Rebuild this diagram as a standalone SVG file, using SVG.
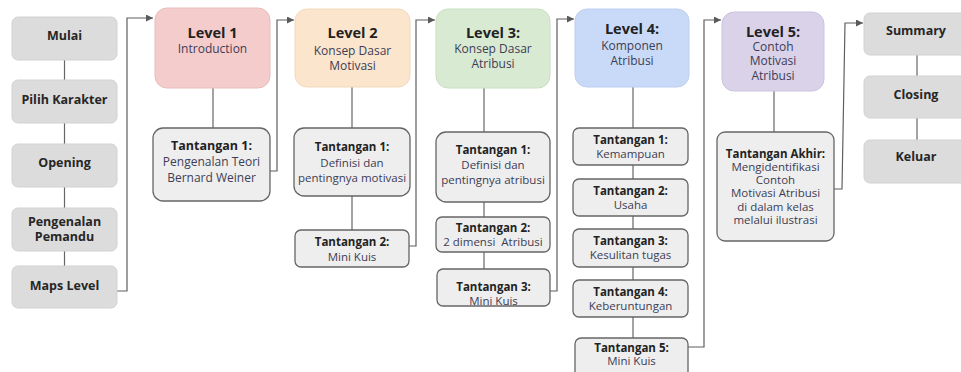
<svg xmlns="http://www.w3.org/2000/svg" width="961" height="372" viewBox="0 0 961 372">
<defs>
<marker id="ah" viewBox="0 0 10 10" refX="10" refY="5" markerWidth="7" markerHeight="7" markerUnits="userSpaceOnUse" orient="auto">
<path d="M0,0 L10,5 L0,10 z" fill="#595959"/>
</marker>
<style>
text{font-family:"Open Sans","Noto Sans","Liberation Sans",sans-serif;text-anchor:middle;}
.side rect{fill:#dcdcdc;stroke:#d2d2d2;stroke-width:1;}
.side text{font-size:12.5px;font-weight:bold;fill:#262626;}
.lvl rect{stroke-width:1;}
.t{font-size:14.5px;font-weight:bold;fill:#222;}
.s{font-size:12px;fill:#3d3d55;}
.ch rect{fill:#eeeeee;stroke:#666;stroke-width:1.3;}
.b{font-size:11.5px;font-weight:bold;fill:#222;}
.r{font-size:11.5px;fill:#3d3d55;}
.big .b{font-size:12.5px;}
.big .r{font-size:12px;}
.c line,.c path{stroke:#666;stroke-width:1.2;fill:none;}
.c path{stroke:#5f5f5f;}
</style>
</defs>
<rect width="961" height="372" fill="#ffffff"/>

<g class="c" id="connectors">
<line x1="64.5" y1="60" x2="64.5" y2="80"/>
<line x1="64.5" y1="123" x2="64.5" y2="144"/>
<line x1="64.5" y1="187" x2="64.5" y2="208"/>
<line x1="64.5" y1="251" x2="64.5" y2="266"/>
<path d="M117,291 H127 V18 H153" marker-end="url(#ah)"/>
<line x1="213" y1="88" x2="213" y2="128"/>
<path d="M270,171 H277 V20 H294" marker-end="url(#ah)"/>
<line x1="352" y1="87" x2="352" y2="128"/>
<line x1="352" y1="196" x2="352" y2="230"/>
<path d="M409,246 H416 V20 H435" marker-end="url(#ah)"/>
<line x1="484" y1="88" x2="484" y2="132"/>
<line x1="484" y1="202" x2="484" y2="217"/>
<line x1="484" y1="252" x2="484" y2="269"/>
<path d="M550,291 H557 V19 H574" marker-end="url(#ah)"/>
<line x1="633" y1="87" x2="633" y2="128"/>
<line x1="633" y1="165" x2="633" y2="179"/>
<line x1="633" y1="216" x2="633" y2="229"/>
<line x1="633" y1="267" x2="633" y2="280"/>
<line x1="633" y1="317" x2="633" y2="338"/>
<path d="M688,347 H704 V20 H721" marker-end="url(#ah)"/>
<line x1="774" y1="91" x2="774" y2="132"/>
<path d="M834,189 H842 L845,23 H863" marker-end="url(#ah)"/>
<line x1="917" y1="55" x2="917" y2="76"/>
<line x1="917" y1="118" x2="917" y2="140"/>
</g>

<g class="side" id="mulai"><rect x="12" y="17" width="105" height="43" rx="6"/><text x="64.5" y="40">Mulai</text></g>
<g class="side" id="pilih-karakter"><rect x="12" y="80" width="105" height="43" rx="6"/><text x="64.5" y="104">Pilih Karakter</text></g>
<g class="side" id="opening"><rect x="12" y="144" width="105" height="43" rx="6"/><text x="64.5" y="167">Opening</text></g>
<g class="side" id="pengenalan-pemandu"><rect x="12" y="208" width="105" height="43" rx="6"/><text x="64.5" y="226">Pengenalan</text><text x="64.5" y="241">Pemandu</text></g>
<g class="side" id="maps-level"><rect x="12" y="266" width="105" height="42" rx="6"/><text x="64.5" y="290">Maps Level</text></g>

<g class="lvl" id="level1"><rect x="155" y="8" width="115" height="80" rx="12" fill="#f4cccc" stroke="#e9bcbc"/><text class="t" x="212.5" y="38">Level 1</text><text class="s" x="212.5" y="53">Introduction</text></g>
<g class="ch big" id="l1-t1"><rect x="153" y="128" width="117" height="73" rx="10"/><text class="b" x="211.5" y="150">Tantangan 1:</text><text class="r" x="211.5" y="166">Pengenalan Teori</text><text class="r" x="211.5" y="182">Bernard Weiner</text></g>

<g class="lvl" id="level2"><rect x="295" y="9" width="115" height="78" rx="12" fill="#fce5cd" stroke="#f3d8bb"/><text class="t" x="352.5" y="38">Level 2</text><text class="s" x="352.5" y="55">Konsep Dasar</text><text class="s" x="352.5" y="70">Motivasi</text></g>
<g class="ch" id="l2-t1"><rect x="294" y="128" width="116" height="68" rx="10"/><text class="b" x="352" y="151">Tantangan 1:</text><text class="r" x="352" y="167">Definisi dan</text><text class="r" x="352" y="182">pentingnya motivasi</text></g>
<g class="ch" id="l2-t2"><rect x="295" y="230" width="114" height="37" rx="6"/><text class="b" x="352" y="246">Tantangan 2:</text><text class="r" x="352" y="261">Mini Kuis</text></g>

<g class="lvl" id="level3"><rect x="436" y="9" width="114" height="79" rx="12" fill="#d9ead3" stroke="#cadfc3"/><text class="t" x="493" y="38">Level 3:</text><text class="s" x="493" y="53">Konsep Dasar</text><text class="s" x="493" y="68">Atribusi</text></g>
<g class="ch" id="l3-t1"><rect x="436" y="132" width="114" height="70" rx="10"/><text class="b" x="493" y="154">Tantangan 1:</text><text class="r" x="493" y="169">Definisi dan</text><text class="r" x="493" y="184">pentingnya atribusi</text></g>
<g class="ch" id="l3-t2"><rect x="436" y="217" width="114" height="35" rx="6"/><text class="b" x="493" y="232">Tantangan 2:</text><text class="r" x="493" y="246" style="white-space:pre">2 dimensi  Atribusi</text></g>
<g class="ch" id="l3-t3"><rect x="437" y="269" width="113" height="37" rx="6"/><text class="b" x="493.5" y="291">Tantangan 3:</text><text class="r" x="493.5" y="305">Mini Kuis</text></g>

<g class="lvl" id="level4"><rect x="575" y="9" width="114" height="78" rx="12" fill="#c9daf8" stroke="#bccef0"/><text class="t" x="632" y="34">Level 4:</text><text class="s" x="632" y="50">Komponen</text><text class="s" x="632" y="65">Atribusi</text></g>
<g class="ch" id="l4-t1"><rect x="573" y="128" width="115" height="37" rx="6"/><text class="b" x="630.5" y="144">Tantangan 1:</text><text class="r" x="630.5" y="158">Kemampuan</text></g>
<g class="ch" id="l4-t2"><rect x="573" y="179" width="115" height="37" rx="6"/><text class="b" x="630.5" y="195">Tantangan 2:</text><text class="r" x="630.5" y="209">Usaha</text></g>
<g class="ch" id="l4-t3"><rect x="573" y="229" width="115" height="38" rx="6"/><text class="b" x="630.5" y="245">Tantangan 3:</text><text class="r" x="630.5" y="259">Kesulitan tugas</text></g>
<g class="ch" id="l4-t4"><rect x="573" y="280" width="115" height="37" rx="6"/><text class="b" x="630.5" y="296">Tantangan 4:</text><text class="r" x="630.5" y="310">Keberuntungan</text></g>
<g class="ch" id="l4-t5"><rect x="575" y="338" width="113" height="40" rx="6"/><text class="b" x="631.5" y="352">Tantangan 5:</text><text class="r" x="631.5" y="365">Mini Kuis</text></g>

<g class="lvl" id="level5"><rect x="722" y="12" width="102" height="79" rx="12" fill="#d9d2e9" stroke="#ccc3e0"/><text class="t" x="773" y="37">Level 5:</text><text class="s" x="773" y="51">Contoh</text><text class="s" x="773" y="65">Motivasi</text><text class="s" x="773" y="80">Atribusi</text></g>
<g class="ch" id="l5-akhir"><rect x="717" y="132" width="117" height="109" rx="8"/><text class="b" x="775.5" y="158">Tantangan Akhir:</text><text class="r" x="775.5" y="171">Mengidentifikasi</text><text class="r" x="775.5" y="184">Contoh</text><text class="r" x="775.5" y="197">Motivasi Atribusi</text><text class="r" x="775.5" y="211">di dalam kelas</text><text class="r" x="775.5" y="224">melalui ilustrasi</text></g>

<g class="side" id="summary"><rect x="864" y="13" width="104" height="42" rx="6"/><text x="916" y="35">Summary</text></g>
<g class="side" id="closing"><rect x="864" y="76" width="104" height="42" rx="6"/><text x="916" y="99">Closing</text></g>
<g class="side" id="keluar"><rect x="864" y="140" width="104" height="43" rx="6"/><text x="916" y="161">Keluar</text></g>
</svg>
